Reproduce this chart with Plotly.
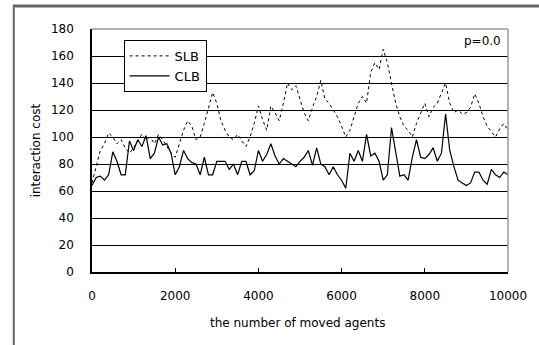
import plotly.graph_objects as go

agents = list(range(0, 10001, 100))

slb = [66, 78, 90, 95, 103, 100, 95, 98, 92, 88,
       92, 97, 102, 98, 100, 95, 102, 98, 93, 88,
       85, 95, 105, 112, 108, 98, 100, 110, 122, 133,
       125, 112, 105, 100, 98, 102, 97, 93, 100, 110,
       123, 113, 105, 123, 118, 112, 125, 140, 135, 138,
       128, 118, 112, 122, 130, 142, 128, 125, 120, 115,
       108, 100, 105, 115, 125, 130, 125, 148, 155, 150,
       165, 155, 140, 125, 115, 108, 105, 100, 110, 118,
       125, 115, 122, 125, 132, 140, 125, 118, 120, 117,
       118, 122, 132, 125, 115, 108, 104, 100, 106, 110,
       105]

clb = [64, 70, 71, 68, 72, 89, 82, 72, 72, 97,
       90, 98, 93, 101, 84, 88, 100, 94, 95, 88,
       72, 78, 90, 84, 81, 80, 72, 85, 72, 72,
       82, 82, 82, 76, 80, 72, 82, 82, 72, 75,
       90, 82, 87, 95, 86, 80, 84, 82, 80, 78,
       82, 85, 90, 79, 92, 80, 78, 72, 78, 72,
       68, 62, 88, 82, 90, 82, 102, 86, 88, 82,
       68, 72, 107, 88, 71, 72, 68, 85, 98, 85,
       84, 87, 92, 82, 88, 117, 90, 78, 68, 66,
       64, 66, 74, 74, 68, 65, 76, 72, 70, 74,
       72]

x_ticks = [0, 2000, 4000, 6000, 8000, 10000]
x_tick_labels = ["0", "2000", "4000", "6000", "8000", "10000"]
y_ticks = [0, 20, 40, 60, 80, 100, 120, 140, 160, 180]

FONT = "DejaVu Sans"

fig = go.Figure()
fig.add_trace(go.Scatter(x=agents, y=slb, mode="lines", name="SLB",
                         line=dict(color="black", width=1, dash="dot")))
fig.add_trace(go.Scatter(x=agents, y=clb, mode="lines", name="CLB",
                         line=dict(color="black", width=1.2)))

fig.update_layout(
    width=539, height=345,
    margin=dict(l=92, r=27, t=29, b=73),
    paper_bgcolor="white", plot_bgcolor="white",
    font=dict(family=FONT, size=12, color="black"),
    showlegend=True,
    legend=dict(x=0.076, y=0.955, xanchor="left", yanchor="top",
                bgcolor="white", bordercolor="black", borderwidth=1,
                font=dict(size=13), tracegroupgap=0, itemwidth=40),
    xaxis=dict(range=[0, 10000], tickvals=x_ticks, ticktext=x_tick_labels,
               ticks="inside", ticklen=4,
               tickcolor="black", showgrid=False, zeroline=False,
               showline=True, linecolor="black", linewidth=1.5,
               ticklabelstandoff=12),
    yaxis=dict(range=[0, 180], tickvals=y_ticks, ticks="", showgrid=True,
               gridcolor="black", gridwidth=1.3, zeroline=False,
               showline=True, linecolor="black", linewidth=1.5,
               ticklabelstandoff=14),
    annotations=[
        dict(text="interaction cost", xref="paper", yref="paper",
             x=-0.135, y=0.5, textangle=-90, showarrow=False,
             font=dict(size=12), xanchor="center", yanchor="middle"),
        dict(text="the number of moved agents", xref="paper", yref="paper",
             x=0.495, y=-0.21, showarrow=False, font=dict(size=12),
             xanchor="center", yanchor="middle"),
        dict(text="p=0.0", xref="paper", yref="paper", x=0.988, y=0.95,
             showarrow=False, font=dict(size=12), xanchor="right",
             yanchor="middle"),
    ],
    shapes=[
        dict(type="line", xref="paper", yref="paper", x0=0, x1=1, y0=1, y1=1,
             line=dict(color="#999999", width=1.5), layer="above"),
        dict(type="line", xref="paper", yref="paper", x0=1, x1=1, y0=0, y1=1,
             line=dict(color="#999999", width=1.5), layer="above"),
        dict(type="line", xref="paper", yref="paper", x0=-0.188, x1=-0.188,
             y0=-0.4, y1=1.1, line=dict(color="#666666", width=2),
             layer="above"),
        dict(type="line", xref="paper", yref="paper", x0=-0.19, x1=1.12,
             y0=1.095, y1=1.095, line=dict(color="#666666", width=3),
             layer="above"),
    ],
)

fig.write_html("out.html", config={"displayModeBar": False},
               post_script="document.body.style.margin='0';")
